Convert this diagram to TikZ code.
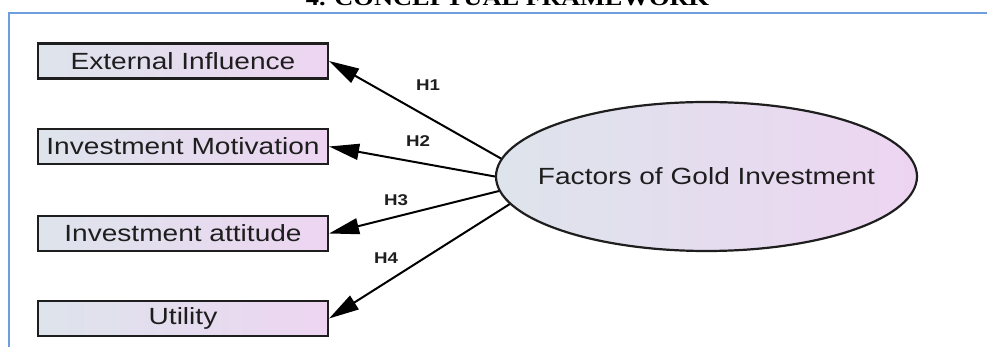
\documentclass[tikz,border=0pt]{standalone}
\usepackage{fontspec}
\setmainfont{Liberation Sans}[FakeStretch=1.2]
\newfontfamily\titlefont{Liberation Serif}[FakeStretch=1.2]
\usetikzlibrary{shapes.geometric,arrows.meta}

\definecolor{frameblue}{HTML}{6C9FDB}
\definecolor{leftfill}{HTML}{DDE4EC}
\definecolor{rightfill}{HTML}{EDD5F1}
\definecolor{ink}{HTML}{1E1E1E}

\begin{document}
\begin{tikzpicture}[x=0.5pt,y=-0.5pt,
  factor/.style={draw=ink, line width=1.1pt, left color=leftfill, right color=rightfill,
    minimum width=145pt, minimum height=17.5pt, inner sep=0pt,
    font=\fontsize{11.7}{14}\selectfont, text=ink},
  construct/.style={ellipse, draw=ink, line width=1.1pt, left color=leftfill, right color=rightfill,
    minimum width=210.5pt, minimum height=74.5pt, inner sep=0pt,
    font=\fontsize{11.7}{14}\selectfont, text=ink},
  hyp/.style={font=\bfseries\fontsize{7.8}{9}\selectfont, text=ink, inner sep=0pt},
  arr/.style={-{Triangle[length=15pt,width=8pt]}, line width=1pt, draw=black}]
\useasboundingbox (0,0) rectangle (987,347);

% heading and frame
\node[anchor=base, font=\titlefont\bfseries\fontsize{11}{13}\selectfont, inner sep=0pt]
  (title) at (507.5,5.5) {4. CONCEPTUAL FRAMEWORK};
\draw[frameblue, line width=1pt] (8.5,347) -- (8.5,13.5) -- (987,13.5);

% factors
\node[factor] (b1) at (183,61)    {External Influence};
\node[factor] (b2) at (183,146.5) {Investment Motivation};
\node[factor] (b3) at (183,233.5) {Investment attitude};
\node[factor] (b4) at (183,318.5) {Utility};

% construct (label boxed at zero width so the ellipse keeps its set size)
\node[construct] (c) at (706.5,176.5) {\makebox[0pt]{Factors of Gold Investment}};

% hypotheses
\draw[arr] (c.175.5) -- (b1.east);
\draw[arr] (c.180)   -- (b2.east);
\draw[arr] (c.184.5) -- (b3.east);
\draw[arr] (c.188.3) -- (b4.east);

\node[hyp] (h1) at (428,85.5) {H1};
\node[hyp] (h2) at (418,141)  {H2};
\node[hyp] (h3) at (396,200)  {H3};
\node[hyp] (h4) at (386,258)  {H4};
\end{tikzpicture}
\end{document}
